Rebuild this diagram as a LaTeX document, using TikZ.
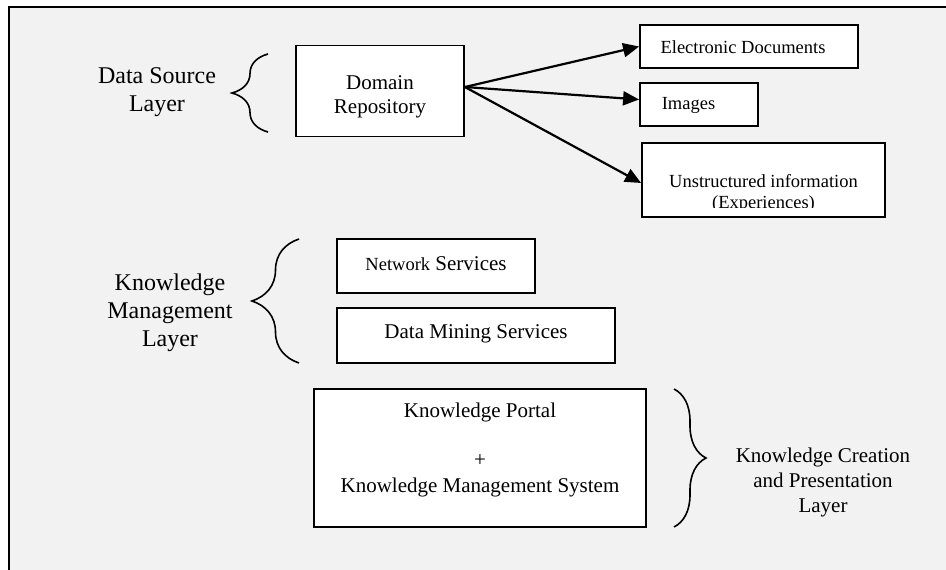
\documentclass[tikz,border=0pt]{standalone}
\usepackage{fontspec}
\setmainfont{Liberation Serif}
\usepackage{tikz}
\usetikzlibrary{arrows.meta,decorations.pathreplacing,positioning}
\definecolor{bggray}{HTML}{F2F2F2}

\begin{document}
\begin{tikzpicture}[x=1pt,y=-1pt,
  box/.style={draw,fill=white,line width=1.8pt,inner sep=0pt},
  lbl/.style={align=center,inner sep=0pt,font=\fontsize{24}{28}\selectfont},
  txt/.style={align=center,inner sep=0pt,font=\fontsize{21}{24.5}\selectfont},
  small/.style={align=center,inner sep=0pt,font=\fontsize{18.5}{21}\selectfont},
  brc/.style={decorate,line width=1.6pt},
  arr/.style={-{Triangle[length=16pt,width=14pt]},line width=2.2pt}]
\useasboundingbox (0,0) rectangle (946,570);
\fill[white] (0,0) rectangle (946,570);
\fill[bggray] (9,7) rectangle (946,570);
\draw[line width=2pt] (9,570) -- (9,7) -- (946,7);
% data source layer
\node[box,minimum width=168pt,minimum height=91pt] (dom) at (380,91) {};
\node[txt] (dom_t) at (380,97) {Domain\\Repository};
\node[box,minimum width=218pt,minimum height=43pt] (edoc) at (749,46.5) {};
\node[small] (edoc_t) at (743,47) {Electronic Documents};
\node[box,minimum width=118pt,minimum height=43pt] (img) at (699,104.5) {};
\node[small] (img_t) at (688.5,105) {Images};
\node[box,minimum width=243pt,minimum height=74pt] (unstr) at (763.5,180) {};
\begin{scope}
\clip (unstr.north west) rectangle ([yshift=10pt]unstr.south east);
\node[small] (unstr_t) at (763.5,193) {Unstructured information\\(Experiences)};
\end{scope}
\node[lbl] (dsl) at (157,92) {Data Source\\Layer};
\draw[brc,decoration={brace,amplitude=36pt}] (268,132) -- (268,54);
\path[arr]
([yshift=4pt]dom.east) edge (edoc.west)
([yshift=4pt]dom.east) edge ([yshift=5pt]img.west)
([yshift=4pt]dom.east) edge ([yshift=-3pt]unstr.west);
% knowledge management layer
\node[box,minimum width=198pt,minimum height=54pt] (netw) at (436,266) {};
\node[txt] (netw_t) at (436,264) {{\fontsize{18.5}{21}\selectfont Network} Services};
\node[box,minimum width=278pt,minimum height=55pt] (dmin) at (476,335.5) {};
\node[txt] (dmin_t) at (476,334) {Data Mining Services};
\node[lbl] (kml) at (170,313) {Knowledge\\Management\\Layer};
\draw[brc,decoration={brace,amplitude=47pt}] (299,363) -- (299,239);
% knowledge creation and presentation layer
\node[box,minimum width=332pt,minimum height=138pt] (kport) at (480,458) {};
\node[txt] (kport_t) at (480,412) {Knowledge Portal};
\node[txt] (plus_t) at (480,461) {+};
\node[txt] (kms_t) at (480,487) {Knowledge Management System};
\draw[brc,decoration={brace,amplitude=32pt}] (674,389) -- (674,527);
\node[align=center,inner sep=0pt,font=\fontsize{21}{25}\selectfont] (kcpl) at (823,482) {Knowledge Creation\\and Presentation\\Layer};
\end{tikzpicture}
\end{document}
